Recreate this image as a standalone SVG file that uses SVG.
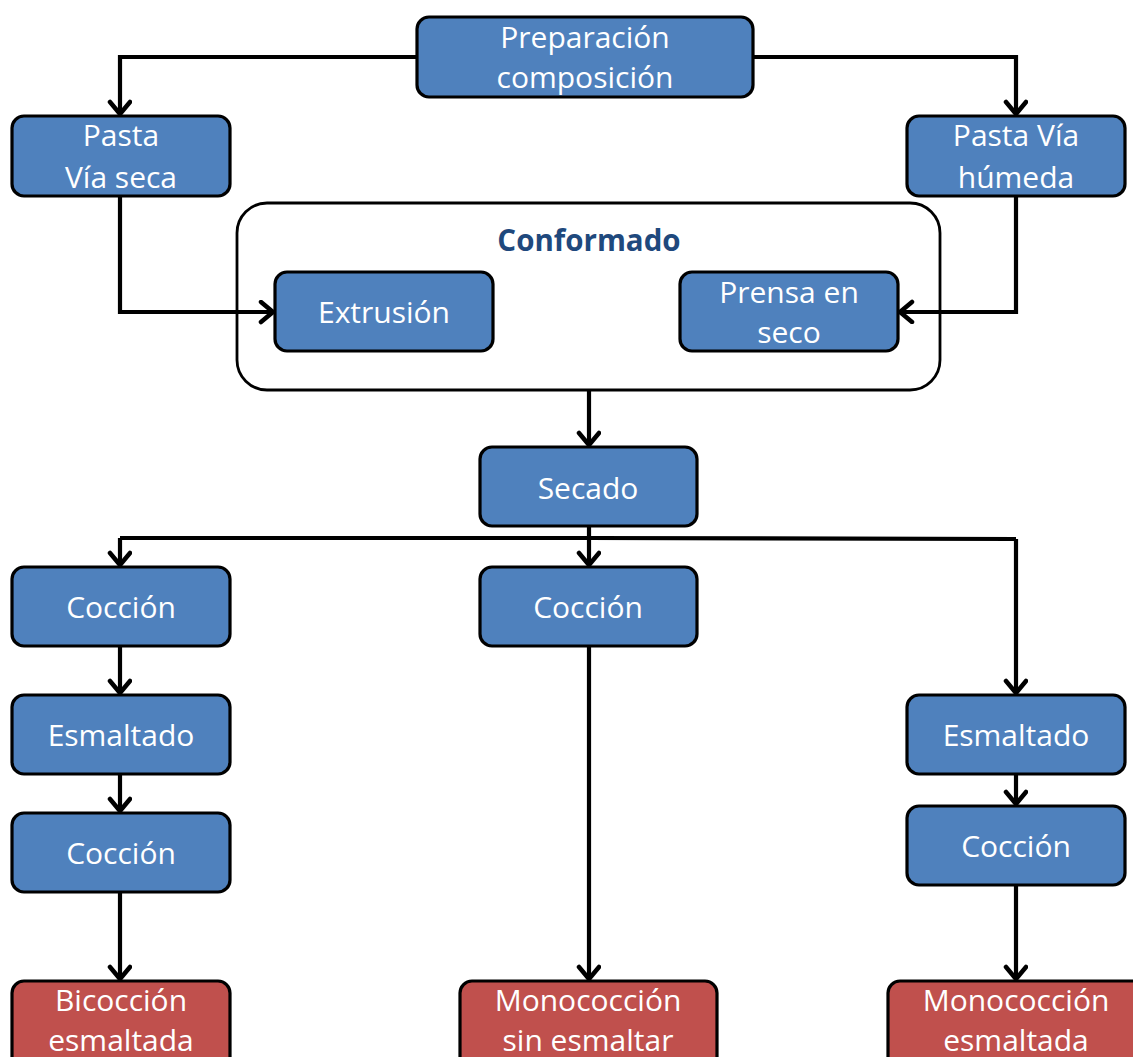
<svg xmlns="http://www.w3.org/2000/svg" width="1133" height="1057" viewBox="0 0 1133 1057">
  <style>
    .box { fill: #4F81BD; stroke: #000; stroke-width: 3.2; }
    .end { fill: #C0504D; stroke: #000; stroke-width: 3.2; }
    .frame { fill: #fff; stroke: #000; stroke-width: 2.8; }
    .lbl { font-family: "Open Sans", Lato, "Liberation Sans", sans-serif; font-size: 30px; fill: #fff; text-anchor: middle; }
    .title { font-family: "Open Sans", Lato, "Liberation Sans", sans-serif; font-size: 29.5px; font-weight: bold; fill: #1F497D; text-anchor: middle; }
    .wire { fill: none; stroke: #000; stroke-width: 4.2; }
  </style>
  <defs>
    <marker id="arr" markerUnits="userSpaceOnUse" markerWidth="28" markerHeight="28" refX="16" refY="12" orient="auto">
      <path d="M4,2 L16,12 L4,22" fill="none" stroke="#000" stroke-width="4.5" stroke-linecap="round" stroke-linejoin="round"/>
    </marker>
  </defs>
  <rect width="1133" height="1057" fill="#fff"/>

  <!-- shaping stage frame -->
  <g id="conformado">
    <rect class="frame" x="237" y="203" width="703" height="187" rx="30"/>
    <text class="title" x="589" y="251">Conformado</text>
  </g>

  <!-- connectors -->
  <g id="connectors">
    <path class="wire" d="M417,57 H120 V114" marker-end="url(#arr)"/>
    <path class="wire" d="M753,57 H1016 V114" marker-end="url(#arr)"/>
    <path class="wire" d="M120,196 V312 H273" marker-end="url(#arr)"/>
    <path class="wire" d="M1016,196 V312 H900" marker-end="url(#arr)"/>
    <path class="wire" d="M589,390 V445" marker-end="url(#arr)"/>
    <path class="wire" d="M589,526 V565" marker-end="url(#arr)"/>
    <path class="wire" d="M120,538 H589 L1016,539"/>
    <path class="wire" d="M120,538 V565" marker-end="url(#arr)"/>
    <path class="wire" d="M1016,539 V693" marker-end="url(#arr)"/>
    <path class="wire" d="M120,646 V693" marker-end="url(#arr)"/>
    <path class="wire" d="M120,774 V811" marker-end="url(#arr)"/>
    <path class="wire" d="M120,892 V979" marker-end="url(#arr)"/>
    <path class="wire" d="M589,646 V979" marker-end="url(#arr)"/>
    <path class="wire" d="M1016,774 V804" marker-end="url(#arr)"/>
    <path class="wire" d="M1016,885 V979" marker-end="url(#arr)"/>
  </g>

  <g id="preparacion">
    <rect class="box" x="417" y="17" width="336" height="80" rx="12"/>
    <text class="lbl" x="585" y="48">Preparación</text>
    <text class="lbl" x="585" y="88">composición</text>
  </g>
  <g id="pasta-seca">
    <rect class="box" x="12" y="116" width="218" height="80" rx="12"/>
    <text class="lbl" x="121" y="146">Pasta</text>
    <text class="lbl" x="121" y="188">Vía seca</text>
  </g>
  <g id="pasta-humeda">
    <rect class="box" x="907" y="116" width="218" height="80" rx="12"/>
    <text class="lbl" x="1016" y="146">Pasta Vía</text>
    <text class="lbl" x="1016" y="188">húmeda</text>
  </g>
  <g id="extrusion">
    <rect class="box" x="275" y="272" width="218" height="79" rx="12"/>
    <text class="lbl" x="384" y="323">Extrusión</text>
  </g>
  <g id="prensa">
    <rect class="box" x="680" y="272" width="218" height="79" rx="12"/>
    <text class="lbl" x="789" y="303">Prensa en</text>
    <text class="lbl" x="789" y="343">seco</text>
  </g>
  <g id="secado">
    <rect class="box" x="480" y="447" width="217" height="79" rx="12"/>
    <text class="lbl" x="588" y="499">Secado</text>
  </g>
  <g id="coccion-1">
    <rect class="box" x="12" y="567" width="218" height="79" rx="12"/>
    <text class="lbl" x="121" y="618">Cocción</text>
  </g>
  <g id="coccion-mono">
    <rect class="box" x="480" y="567" width="217" height="79" rx="12"/>
    <text class="lbl" x="588" y="618">Cocción</text>
  </g>
  <g id="esmaltado-1">
    <rect class="box" x="12" y="695" width="218" height="79" rx="12"/>
    <text class="lbl" x="121" y="746">Esmaltado</text>
  </g>
  <g id="coccion-2">
    <rect class="box" x="12" y="813" width="218" height="79" rx="12"/>
    <text class="lbl" x="121" y="864">Cocción</text>
  </g>
  <g id="esmaltado-2">
    <rect class="box" x="907" y="695" width="218" height="79" rx="12"/>
    <text class="lbl" x="1016" y="746">Esmaltado</text>
  </g>
  <g id="coccion-3">
    <rect class="box" x="907" y="806" width="218" height="79" rx="12"/>
    <text class="lbl" x="1016" y="857">Cocción</text>
  </g>
  <g id="bicoccion">
    <rect class="end" x="12" y="981" width="218" height="90" rx="12"/>
    <text class="lbl" x="121" y="1011">Bicocción</text>
    <text class="lbl" x="121" y="1051">esmaltada</text>
  </g>
  <g id="monococcion-sin">
    <rect class="end" x="460" y="981" width="257" height="90" rx="12"/>
    <text class="lbl" x="588" y="1011">Monococción</text>
    <text class="lbl" x="588" y="1051">sin esmaltar</text>
  </g>
  <g id="monococcion-esm">
    <rect class="end" x="888" y="981" width="257" height="90" rx="12"/>
    <text class="lbl" x="1016" y="1011">Monococción</text>
    <text class="lbl" x="1016" y="1051">esmaltada</text>
  </g>
</svg>
